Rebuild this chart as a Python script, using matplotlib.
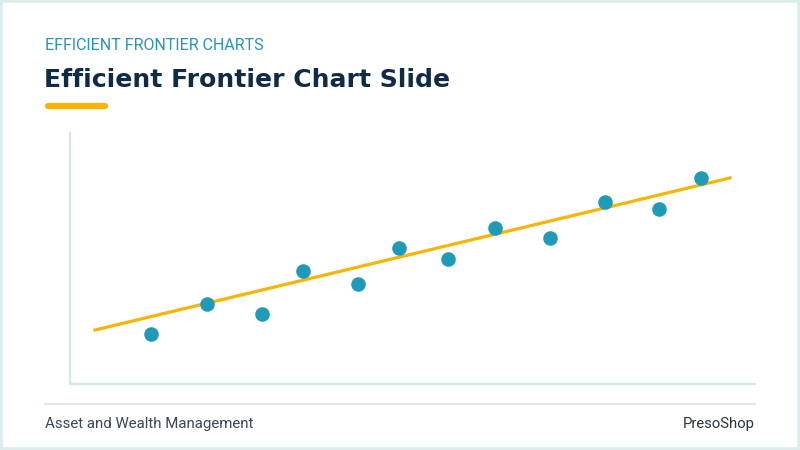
import matplotlib.pyplot as plt
from matplotlib.lines import Line2D
from matplotlib.patches import Rectangle

# portfolio points (risk vs return, arbitrary units)
risk = [1.66, 2.8, 3.93, 4.76, 5.89, 6.73, 7.73, 8.69, 9.82, 10.94, 12.04, 12.9]
ret = [1.99, 3.19, 2.79, 4.5, 3.98, 5.42, 4.98, 6.22, 5.82, 7.25, 6.97, 8.21]

# frontier trend line end points
frontier_x = [0.51, 13.49]
frontier_y = [2.15, 8.21]

kicker = 'EFFICIENT FRONTIER CHARTS'
title = 'Efficient Frontier Chart Slide'
footer_left = 'Asset and Wealth Management'
footer_right = 'PresoShop'

W, H = 800, 450
fig = plt.figure(figsize=(8, 4.5), dpi=100)
fig.patch.set_facecolor('white')

def fx(px):
	return px / W

def fy(py):
	return 1 - py / H

# light frame round the slide
fig.patches.append(Rectangle((0, 0), 1, 1, transform=fig.transFigure, fill=False,
	edgecolor='#dcebee', linewidth=4, zorder=0))

fig.text(fx(45), fy(46), kicker, color='#2596b3', fontsize=11.5, family='Roboto',
	va='center', ha='left')
fig.text(fx(44), fy(80), title, color='#0f2b45', fontsize=18.1, family='DejaVu Sans',
	fontweight='bold', va='center', ha='left')
fig.lines.append(Line2D([fx(48), fx(105)], [fy(106), fy(106)], transform=fig.transFigure,
	color='#f7b500', linewidth=4.5, solid_capstyle='round'))

# footer
fig.lines.append(Line2D([fx(45), fx(755)], [fy(404), fy(404)], transform=fig.transFigure,
	color='#dfe5e8', linewidth=1.5))
fig.text(fx(45), fy(424), footer_left, color='#3b4752', fontsize=10.8, family='Roboto',
	va='center', ha='left')
fig.text(fx(755), fy(424), footer_right, color='#26323c', fontsize=10.7, family='Roboto',
	va='center', ha='right')

ax = fig.add_axes([fx(70), fy(384), 685 / W, 251 / H])
ax.set_xlim(0, 14)
ax.set_ylim(0, 10)
ax.plot(frontier_x, frontier_y, color='#f7b500', linewidth=2.3, zorder=2)
ax.scatter(risk, ret, s=110, color='#1f9ab8', zorder=3, linewidths=0)

for side in ['top', 'right']:
	ax.spines[side].set_visible(False)
for side in ['left', 'bottom']:
	ax.spines[side].set_color('#d6e7ea')
	ax.spines[side].set_linewidth(1.6)
ax.set_xticks([])
ax.set_yticks([])
ax.patch.set_alpha(0)

fig.savefig('out.png', dpi=100)
